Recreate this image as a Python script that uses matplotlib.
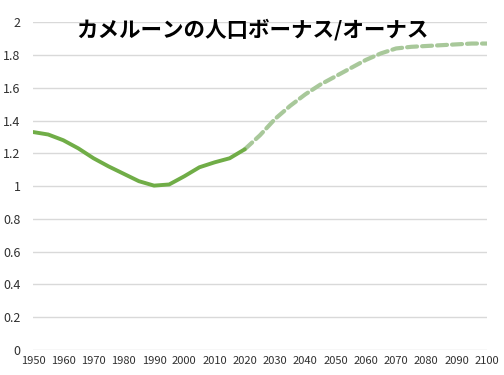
import numpy as np
import matplotlib.pyplot as plt
from matplotlib.ticker import FuncFormatter

plt.rcParams['font.family'] = ['Noto Sans CJK JP', 'DejaVu Sans']

# observed (solid)
years_obs = [1950, 1955, 1960, 1965, 1970, 1975, 1980, 1985, 1990, 1995, 2000, 2005, 2010, 2015, 2020]
ratio_obs = [1.33, 1.315, 1.28, 1.23, 1.17, 1.12, 1.075, 1.03, 1.003, 1.01, 1.06, 1.115, 1.145, 1.17, 1.225]

# projection (dashed)
years_proj = [2020, 2025, 2030, 2035, 2040, 2045, 2050, 2055, 2060, 2065, 2070, 2075, 2080, 2085, 2090, 2095, 2100]
ratio_proj = [1.225, 1.31, 1.41, 1.49, 1.56, 1.62, 1.67, 1.72, 1.77, 1.81, 1.84, 1.85, 1.855, 1.86, 1.865, 1.87, 1.87]

x_ticks = list(range(1950, 2101, 10))
y_ticks = [0, 0.2, 0.4, 0.6, 0.8, 1, 1.2, 1.4, 1.6, 1.8, 2]

fig = plt.figure(figsize=(5.04, 3.75), dpi=100)
ax = fig.add_axes([0.0655, 0.0667, 0.9005, 0.874])

ax.plot(years_proj, ratio_proj, color='#A8C89A', linewidth=3.0, linestyle=(0, (2.4, 1.2)),
        solid_capstyle='round', dash_capstyle='round')
ax.plot(years_obs, ratio_obs, color='#70AD47', linewidth=2.8, solid_capstyle='round')

ax.set_xlim(1950, 2100)
ax.set_ylim(0, 2)
ax.set_xticks(x_ticks)
ax.set_yticks(y_ticks)
ax.yaxis.set_major_formatter(FuncFormatter(lambda v, p: f"{v:g}"))
ax.grid(True, axis='y', color='#D9D9D9', linewidth=1)
ax.set_axisbelow(True)
for s in ax.spines.values():
    s.set_visible(False)
ax.tick_params(axis='x', length=0, labelsize=8, colors='#303030', pad=4)
ax.tick_params(axis='y', length=0, labelsize=9, colors='#303030', pad=9)

fig.text(0.5, 0.92, "カメルーンの人口ボーナス/オーナス", ha='center', va='center',
         fontsize=15.5, fontweight='bold', color='black')

fig.savefig("out.png", dpi=100)
